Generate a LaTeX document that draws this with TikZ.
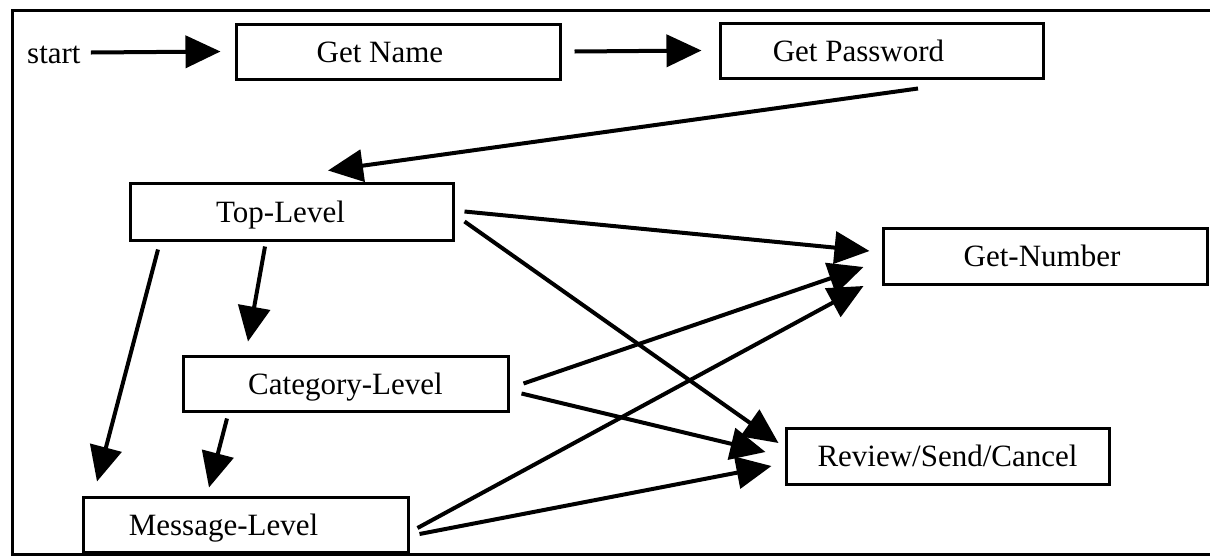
\documentclass[tikz,border=0pt]{standalone}
\usepackage{fontspec}
\setmainfont{Liberation Serif}
\usetikzlibrary{arrows.meta,calc}
\newcommand{\offtext}[2]{\makebox[0pt]{\kern#1\relax #2}}
\begin{document}
\begin{tikzpicture}[x=1pt,y=-1pt,
  font=\fontsize{31}{36}\selectfont,
  stbox/.style={draw, line width=3pt, rectangle, inner sep=0pt,
     minimum width=324pt, minimum height=56pt, text height=21pt, text depth=0pt},
  lbl/.style={inner sep=0pt, text height=21pt, text depth=0pt},
  conn/.style={line width=4pt, -{Triangle[length=35pt,width=32pt]}},
  frame/.style={line width=3pt}]
\useasboundingbox (0,0) rectangle (1210,558);
\draw[frame] (1212,10) -- (12,10) -- (12,554) -- (1212,554);

\node[lbl, anchor=base west] (start) at (27,63) {start};
\node[stbox, minimum height=55pt] (name) at (398,51.5) {\offtext{-36pt}{Get Name}};
\node[stbox, minimum width=323pt, minimum height=55pt] (pw) at (881.5,50.5) {\offtext{-46pt}{Get Password}};
\node[stbox, minimum width=323pt, minimum height=57pt] (top) at (291.5,211.5) {\offtext{-22pt}{Top-Level}};
\node[stbox, minimum width=325pt, minimum height=55pt] (cat) at (345.5,383.5) {Category-Level};
\node[stbox, minimum width=325pt, minimum height=55pt] (msg) at (245.5,524.5) {\offtext{-44pt}{Message-Level}};
\node[stbox] (gn) at (1045,256) {\offtext{-6pt}{Get-Number}};
\node[stbox, minimum width=323pt] (rev) at (947.5,456) {Review/Send/Cancel};

\draw[conn] ($(start.east)+(10,0)$) -- ($(name.west)+(-14,0)$);
\draw[conn] ($(name.east)+(13,0)$) -- ($(pw.west)+(-17,0)$);
\draw[conn] ($(pw.south)+(36.5,9)$) -- ($(top.north)+(36.5,-11)$);
\draw[conn] ($(top.south)+(-26.5,5)$) -- ($(cat.north)+(-97.5,-13)$);
\draw[conn] ($(top.south)+(-133.5,8)$) -- ($(msg.north)+(-148.5,-14)$);
\draw[conn] ($(cat.south)+(-118.5,6)$) -- ($(msg.north)+(-36.5,-8)$);
\draw[conn] ($(top.east)+(10,0)$) -- ($(gn.west)+(-12,-5)$);
\draw[conn] ($(top.east)+(10,10)$) -- ($(rev.west)+(-6,-13)$);
\draw[conn] ($(cat.east)+(14,0)$) -- ($(gn.west)+(-18,11)$);
\draw[conn] ($(cat.east)+(12,10)$) -- ($(rev.west)+(-19,-4)$);
\draw[conn] ($(msg.east)+(8,3.5)$) -- ($(gn.west)+(-18,30)$);
\draw[conn] ($(msg.east)+(10,9.5)$) -- ($(rev.west)+(-13,10)$);
\end{tikzpicture}
\end{document}
